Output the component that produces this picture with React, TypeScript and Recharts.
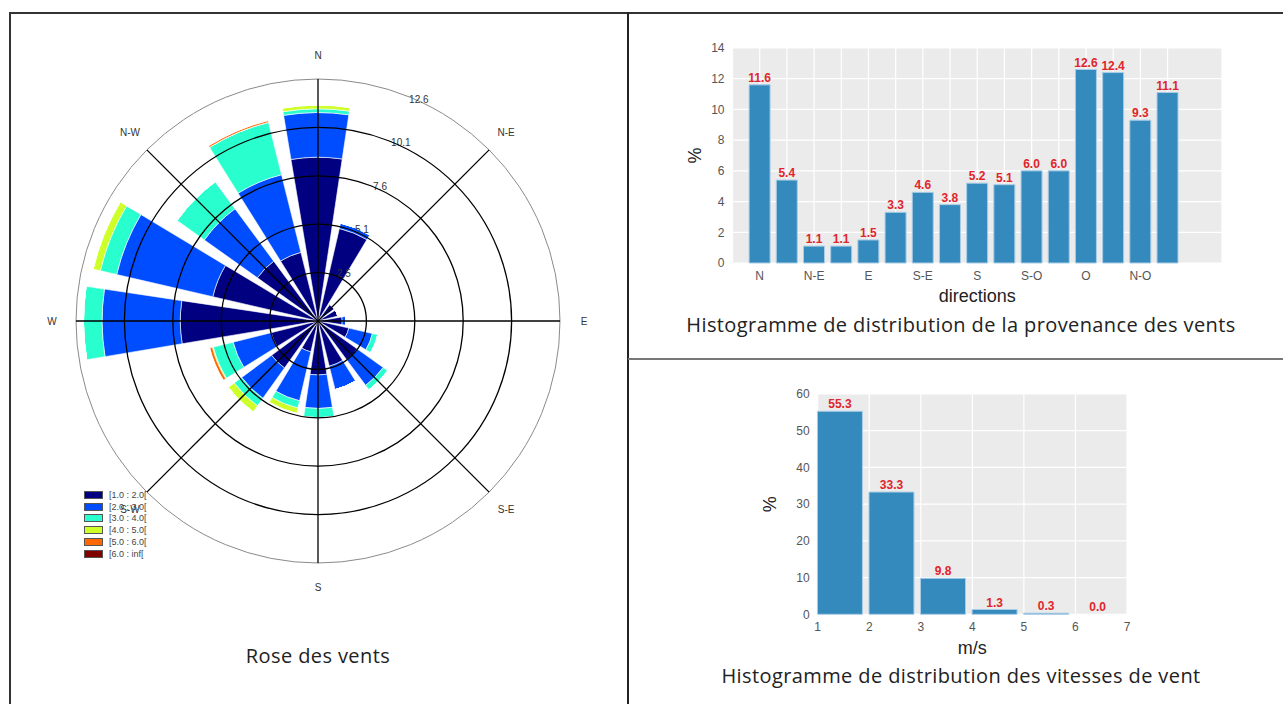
import React from "react";
import {
  RadialBarChart,
  RadialBar,
  PolarGrid,
  PolarAngleAxis,
  PolarRadiusAxis,
  BarChart,
  Bar,
  XAxis,
  YAxis,
  CartesianGrid,
  LabelList,
  Rectangle,
} from "recharts";

// ---- wind rose data (% of time, per direction, per speed class) ----
const directions16 = ["N", "NNE", "NE", "ENE", "E", "ESE", "SE", "SSE", "S", "SSW", "SW", "WSW", "W", "WNW", "NW", "NNW"];
const directionDeg = [0, 22.5, 45, 67.5, 90, 112.5, 135, 157.5, 180, 202.5, 225, 247.5, 270, 292.5, 315, 337.5];
const speed1to2 = [8.8, 5.1, 1.1, 1.1, 1.3, 1.7, 2.6, 2.5, 2.9, 1.7, 3.1, 2.6, 7.4, 5.8, 4.0, 3.8];
const speed2to3 = [2.4, 0.3, 0, 0, 0.2, 1.3, 1.7, 1.3, 1.8, 2.7, 2.0, 2.1, 4.2, 5.3, 3.5, 4.3];
const speed3to4 = [0.2, 0, 0, 0, 0, 0.3, 0.3, 0, 0.5, 0.4, 0.5, 1.1, 1.0, 0.9, 1.8, 2.9];
const speed4to5 = [0.2, 0, 0, 0, 0, 0, 0, 0, 0, 0.3, 0.4, 0.05, 0, 0.4, 0, 0];
const speed5to6 = [0, 0, 0, 0, 0, 0, 0, 0, 0, 0, 0, 0.15, 0, 0, 0, 0.1];
const speed6toInf = [0, 0, 0, 0, 0, 0, 0, 0, 0, 0, 0, 0, 0, 0, 0, 0];

const speedBinKeys = ["s1", "s2", "s3", "s4", "s5", "s6"];
const speedBinLabels = ["[1.0 : 2.0[", "[2.0 : 3.0[", "[3.0 : 4.0[", "[4.0 : 5.0[", "[5.0 : 6.0[", "[6.0 : inf["];
const speedBinColors = ["#000080", "#004dff", "#29ffce", "#ceff29", "#ff6800", "#800000"];

const compassDeg = [0, 45, 90, 135, 180, 225, 270, 315];
const compassLabels = ["N", "N-E", "E", "S-E", "S", "S-W", "W", "N-W"];
const radiusTicks = [2.53, 5.06, 7.59, 10.12, 12.65];
const radiusLabels = ["2.5", "5.1", "7.6", "10.1", "12.6"];
const RMAX = 12.65;

// ---- direction histogram ----
const histDirIndex = [0, 1, 2, 3, 4, 5, 6, 7, 8, 9, 10, 11, 12, 13, 14, 15];
const histDirLabels = ["N", "", "N-E", "", "E", "", "S-E", "", "S", "", "S-O", "", "O", "", "N-O", ""];
const histDirFreq = [11.6, 5.4, 1.1, 1.1, 1.5, 3.3, 4.6, 3.8, 5.2, 5.1, 6.0, 6.0, 12.6, 12.4, 9.3, 11.1];
const histDirYTicks = [0, 2, 4, 6, 8, 10, 12, 14];

// ---- speed histogram ----
const speedClassStart = [1, 2, 3, 4, 5, 6];
const speedClassFreq = [55.3, 33.3, 9.8, 1.3, 0.3, 0.0];
const speedXTicks = [1, 2, 3, 4, 5, 6, 7];
const speedYTicks = [0, 10, 20, 30, 40, 50, 60];

const speedSeries = [speed1to2, speed2to3, speed3to4, speed4to5, speed5to6, speed6toInf];
const roseData = directions16.map((dir, i) => {
  const row: any = { dir, deg: directionDeg[i] };
  speedBinKeys.forEach((k, j) => (row[k] = speedSeries[j][i]));
  return row;
});
const dirHistData = histDirIndex.map((i) => ({ i, freq: histDirFreq[i] }));
const speedHistData = speedClassStart.map((start, i) => ({ start, freq: speedClassFreq[i] }));

const SANS = "'Liberation Sans', Arial, sans-serif";
const CAPTION = "'Open Sans', 'Noto Sans', sans-serif";
const OUTER_R = 242;

const CompassTick = (props: any) => {
  const { x, y, payload } = props;
  const idx = compassDeg.indexOf(payload.value);
  return (
    <text x={x} y={y} textAnchor="middle" dominantBaseline="central" fontSize={10} fill="#333" fontFamily={SANS}>
      {compassLabels[idx] ?? ""}
    </text>
  );
};

const RadiusTick = (props: any) => {
  const { x, y, payload } = props;
  const idx = radiusTicks.indexOf(payload.value);
  return (
    <text x={x + 1} y={y - 4} textAnchor="start" dominantBaseline="central" fontSize={10} fill="#333" fontFamily={SANS}>
      {radiusLabels[idx] ?? ""}
    </text>
  );
};

const EdgeBar = (props: any) => <Rectangle {...props} x={props.x + props.width / 2} />;

const EdgeLabel = (props: any) => {
  const { x, y, width, value } = props;
  return (
    <text x={x + width} y={y - 3} textAnchor="middle" fontSize={12} fontWeight="bold" fill="#e0252b" fontFamily={SANS}>
      {Number(value).toFixed(1)}
    </text>
  );
};

function WindRose() {
  return (
    <div style={{ position: "absolute", left: 38, top: 41 }}>
      <RadialBarChart
        width={560}
        height={560}
        cx={280}
        cy={280}
        innerRadius={0}
        outerRadius={OUTER_R}
        data={roseData}
        layout="centric"
        startAngle={90}
        endAngle={-270}
        barSize={18}
        margin={{ top: 0, right: 0, bottom: 0, left: 0 }}
      >
        <PolarAngleAxis
          type="number"
          dataKey="deg"
          domain={[0, 360]}
          ticks={compassDeg}
          tick={CompassTick}
          tickLine={false}
          tickSize={24}
          axisLineType="circle"
          axisLine={{ stroke: "#8a8a8a", strokeWidth: 1 }}
        />
        <PolarRadiusAxis
          type="number"
          domain={[0, RMAX]}
          ticks={radiusTicks}
          angle={67.5}
          axisLine={false}
          tickLine={false}
          tick={RadiusTick}
        />
        {speedBinKeys.map((k, j) => (
          <RadialBar
            key={k}
            dataKey={k}
            stackId="rose"
            fill={speedBinColors[j]}
            stroke="#ffffff"
            strokeWidth={0.6}
            isAnimationActive={false}
          />
        ))}
        {/* matplotlib draws the polar grid above the bars */}
        <PolarGrid
          gridType="circle"
          stroke="#000"
          strokeWidth={1.3}
          zIndex={1000}
          polarRadius={radiusTicks.slice(0, 4).map((v) => (v / RMAX) * OUTER_R)}
        />
      </RadialBarChart>
      <div style={{ position: "absolute", left: 46, top: 448, fontFamily: SANS, fontSize: 9, color: "#444" }}>
        {speedBinLabels.map((lab, j) => (
          <div key={lab} style={{ display: "flex", alignItems: "center", height: 11.8 }}>
            <span
              style={{
                display: "inline-block",
                width: 17,
                height: 6,
                background: speedBinColors[j],
                border: "1px solid #555",
                marginRight: 6,
              }}
            />
            <span>{lab}</span>
          </div>
        ))}
      </div>
    </div>
  );
}

function DirectionHistogram() {
  return (
    <div style={{ position: "absolute", left: 680, top: 30 }}>
      <BarChart width={560} height={280} data={dirHistData} margin={{ top: 18, right: 18, left: 0, bottom: 0 }}>
        <CartesianGrid fill="#ebebeb" stroke="#ffffff" strokeWidth={1.2} />
        <XAxis
          type="number"
          dataKey="i"
          domain={[-1, 17]}
          ticks={histDirIndex}
          interval={0}
          tickFormatter={(v: number) => histDirLabels[v] ?? ""}
          axisLine={false}
          tickLine={false}
          height={47}
          tick={{ fontSize: 12, fill: "#555", fontFamily: SANS }}
          label={{ value: "directions", position: "center", dy: 9, fontSize: 18, fill: "#222", fontFamily: SANS }}
        />
        <YAxis
          type="number"
          domain={[0, 14]}
          ticks={histDirYTicks}
          width={52.5}
          axisLine={false}
          tickLine={false}
          tick={{ fontSize: 12, fill: "#555", fontFamily: SANS }}
          label={{ value: "%", angle: -90, position: "center", dx: -12, fontSize: 18, fill: "#222", fontFamily: SANS }}
        />
        <Bar dataKey="freq" fill="#348abd" stroke="#a9cde6" strokeWidth={1} barSize={21} isAnimationActive={false}>
          <LabelList
            dataKey="freq"
            position="top"
            offset={3}
            formatter={(v: any) => Number(v).toFixed(1)}
            fill="#e0252b"
            fontWeight="bold"
            fontSize={12}
            fontFamily={SANS}
          />
        </Bar>
      </BarChart>
    </div>
  );
}

function SpeedHistogram() {
  return (
    <div style={{ position: "absolute", left: 740, top: 380 }}>
      <BarChart width={420} height={280} data={speedHistData} margin={{ top: 14, right: 33, left: 0, bottom: 0 }}>
        <CartesianGrid fill="#ebebeb" stroke="#ffffff" strokeWidth={1.2} />
        <XAxis
          type="number"
          dataKey="start"
          domain={[1, 7]}
          ticks={speedXTicks}
          interval={0}
          axisLine={false}
          tickLine={false}
          height={45.7}
          tick={{ fontSize: 12, fill: "#555", fontFamily: SANS }}
          label={{ value: "m/s", position: "center", dy: 10, fontSize: 18, fill: "#222", fontFamily: SANS }}
        />
        <YAxis
          type="number"
          domain={[0, 60]}
          ticks={speedYTicks}
          width={77.7}
          axisLine={false}
          tickLine={false}
          tick={{ fontSize: 12, fill: "#555", fontFamily: SANS }}
          label={{ value: "%", angle: -90, position: "center", dx: -9, fontSize: 18, fill: "#222", fontFamily: SANS }}
        />
        <Bar
          dataKey="freq"
          fill="#348abd"
          stroke="#a9cde6"
          strokeWidth={1}
          barSize={45}
          shape={EdgeBar}
          isAnimationActive={false}
        >
          <LabelList dataKey="freq" content={EdgeLabel} />
        </Bar>
      </BarChart>
    </div>
  );
}

const captionStyle = (left: number, top: number, width: number): React.CSSProperties => ({
  position: "absolute",
  left,
  top,
  width,
  textAlign: "center",
  fontFamily: CAPTION,
  fontSize: 20,
  letterSpacing: 0.4,
  lineHeight: "26px",
  color: "#222",
});

export default function App() {
  return (
    <div style={{ position: "absolute", left: 0, top: 0, width: 1283, height: 704, background: "#fff", overflow: "hidden" }}>
      {/* table borders */}
      <div style={{ position: "absolute", left: 9, top: 12, width: 1274, height: 1.5, background: "#333" }} />
      <div style={{ position: "absolute", left: 9, top: 12, width: 1.5, height: 692, background: "#333" }} />
      <div style={{ position: "absolute", left: 627, top: 12, width: 1.5, height: 692, background: "#222" }} />
      <div style={{ position: "absolute", left: 628, top: 358, width: 655, height: 1.5, background: "#777" }} />

      <WindRose />
      <DirectionHistogram />
      <SpeedHistogram />

      <div style={captionStyle(118, 643, 400)}>Rose des vents</div>
      <div style={captionStyle(661, 312, 600)}>Histogramme de distribution de la provenance des vents</div>
      <div style={captionStyle(661, 663, 600)}>Histogramme de distribution des vitesses de vent</div>
    </div>
  );
}
